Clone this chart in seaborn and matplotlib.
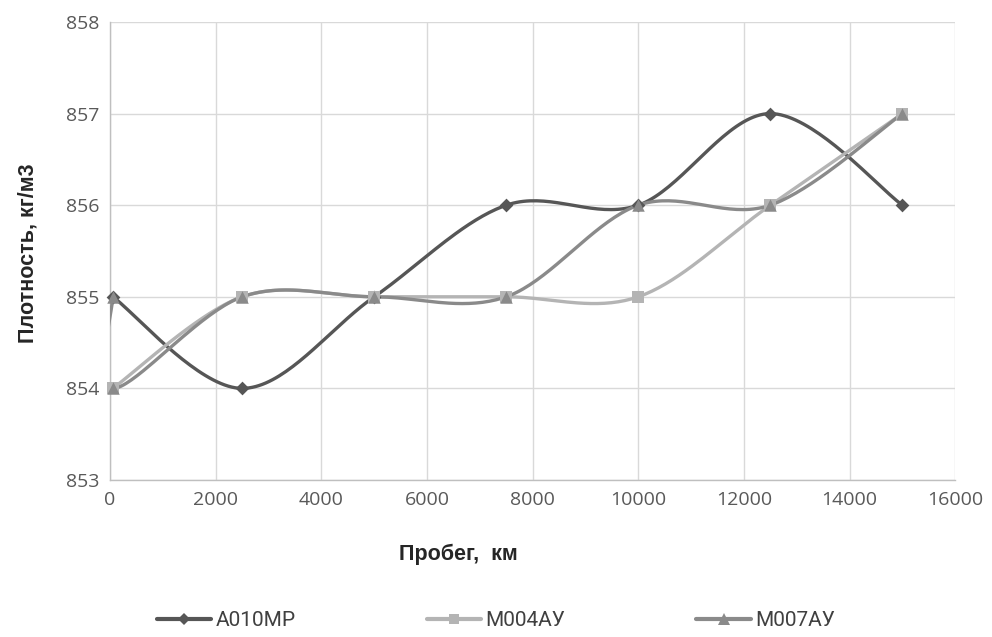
import numpy as np
import pandas as pd
import matplotlib
matplotlib.use("Agg")
import matplotlib.pyplot as plt
from matplotlib.lines import Line2D
import seaborn as sns

# Mileage (km) and fuel density (kg/m3) per vehicle
mileage = [50, 2500, 5000, 7500, 10000, 12500, 15000]
a010mp = [855, 854, 855, 856, 856, 857, 856]
m004ay = [854, 855, 855, 855, 855, 856, 857]
m007ay_x = [50, 60, 2500, 5000, 7500, 10000, 12500, 15000]
m007ay = [855, 854, 855, 855, 855, 856, 856, 857]

series = [
    ("А010МР", mileage, a010mp, "#565656", "D", 7),
    ("М004АУ", mileage, m004ay, "#b4b4b4", "s", 8),
    ("М007АУ", m007ay_x, m007ay, "#8a8a8a", "^", 9),
]


def smooth(xs, ys, n=40):
    """Catmull-Rom style Bezier smoothing through the given points."""
    P = np.column_stack([xs, ys]).astype(float)
    pts = np.vstack([P[0], P, P[-1]])
    out = []
    t = np.linspace(0, 1, n)[:, None]
    for i in range(1, len(pts) - 2):
        p0, p1, p2, p3 = pts[i - 1], pts[i], pts[i + 1], pts[i + 2]
        c1 = p1 + (p2 - p0) / 6.0
        c2 = p2 - (p3 - p1) / 6.0
        seg = ((1 - t) ** 3) * p1 + 3 * ((1 - t) ** 2) * t * c1 + 3 * (1 - t) * t ** 2 * c2 + t ** 3 * p2
        out.append(seg if i == 1 else seg[1:])
    s = np.vstack(out)
    return s[:, 0], s[:, 1]


sns.set_theme(style="white")
plt.rcParams["font.family"] = ["Open Sans", "DejaVu Sans"]

fig = plt.figure(figsize=(9.92, 6.37), dpi=100)
ax = fig.add_axes([0.111, 0.2465, 0.852, 0.719])

for k, (name, xs, ys, color, marker, ms) in enumerate(series):
    sx, sy = smooth(xs, ys)
    curve = pd.DataFrame({"x": sx, "y": sy})
    sns.lineplot(data=curve, x="x", y="y", sort=False, estimator=None, ax=ax,
                 color=color, linewidth=2.4, zorder=3)
    pts = pd.DataFrame({"x": xs, "y": ys})
    sns.scatterplot(data=pts, x="x", y="y", ax=ax, color=color, marker=marker,
                    s=ms ** 2, edgecolor=color, linewidth=0, zorder=4 + k)
for coll in ax.collections:
    coll.set_clip_on(False)

ax.set_xlim(0, 16000)
ax.set_ylim(853, 858)
ax.set_xticks(np.arange(0, 16001, 2000))
ax.set_yticks(np.arange(853, 858.1, 1))
ax.grid(True, color="#d9d9d9", linewidth=1.0)
for side in ("top", "right"):
    ax.spines[side].set_visible(False)
for side in ("left", "bottom"):
    ax.spines[side].set_color("#bfbfbf")
    ax.spines[side].set_linewidth(1.0)
ax.tick_params(axis="both", labelsize=14, colors="#595959", length=0, pad=8)

label_font = {"family": ["Liberation Sans", "DejaVu Sans"], "size": 15.5,
              "weight": "bold", "color": "#262626"}
ax.set_xlabel("Пробег,  км", fontdict=label_font)
ax.set_ylabel("Плотность, кг/м3", fontdict=label_font)
ax.xaxis.set_label_coords(0.412, -0.14)
ax.yaxis.set_label_coords(-0.085, 0.496)

handles = [Line2D([0], [0], color=c, linewidth=3, marker=m, markersize=ms * 0.9,
                  markeredgewidth=0) for _, _, _, c, m, ms in series]
fig.legend(handles, [s[0] for s in series], loc="center", bbox_to_anchor=(0.5, 0.026),
           ncol=3, frameon=False, handlelength=2.6, handletextpad=0.2,
           columnspacing=6.3, labelcolor="#404040",
           prop={"family": "Roboto", "size": 15})

fig.savefig("out.png", dpi=100)
